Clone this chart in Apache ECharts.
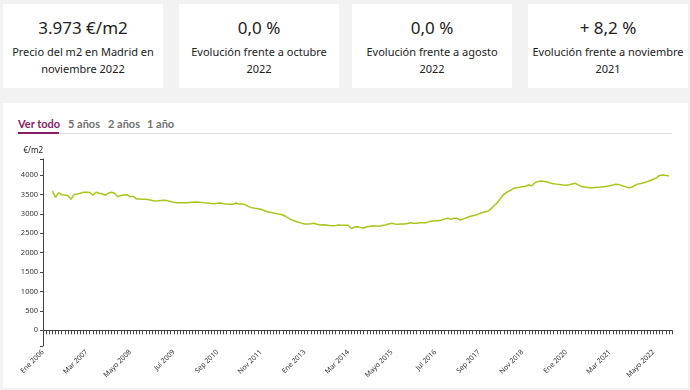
<!DOCTYPE html>
<html>
<head>
<meta charset="utf-8">
<script src="https://cdn.jsdelivr.net/npm/echarts@6/dist/echarts.min.js"></script>
<style>
  html, body { margin:0; padding:0; width:690px; height:390px; background:#f2f2f2; overflow:hidden; font-family:"Noto Sans", sans-serif; }
  .card { position:absolute; top:4px; height:84px; background:#fff; text-align:center; color:#222; }
  .card .v { font-size:17px; margin-top:13px; line-height:22px; }
  .card .l { font-size:11px; line-height:17px; margin-top:4px; color:#222; }
  #panel { position:absolute; left:3px; top:103px; width:685px; height:285px; background:#fff; }
  .tab { position:absolute; top:117px; font-family:"Lato", sans-serif; font-weight:bold; font-size:11px; color:#707070; }
  #tabline { position:absolute; left:18px; top:133px; width:654px; height:1px; background:#e2e2e2; }
  #tabsel { position:absolute; left:18px; top:132px; width:41px; height:2px; background:#8a1c63; }
  #chart { position:absolute; left:0; top:0; width:690px; height:390px; }
</style>
</head>
<body>
<div class="card" style="left:3px;width:160px"><div class="v">3.973 €/m2</div><div class="l">Precio del m2 en Madrid en<br>noviembre 2022</div></div>
<div class="card" style="left:179px;width:160px"><div class="v">0,0 %</div><div class="l">Evolución frente a octubre<br>2022</div></div>
<div class="card" style="left:352px;width:160px"><div class="v">0,0 %</div><div class="l">Evolución frente a agosto<br>2022</div></div>
<div class="card" style="left:528px;width:160px"><div class="v">+ 8,2 %</div><div class="l">Evolución frente a noviembre<br>2021</div></div>
<div id="panel"></div>
<div class="tab" style="left:18px;color:#8a1c63">Ver todo</div>
<div class="tab" style="left:68px">5 años</div>
<div class="tab" style="left:108px">2 años</div>
<div class="tab" style="left:147px">1 año</div>
<div id="tabline"></div>
<div id="tabsel"></div>
<div id="chart"></div>
<script>
// Month names used on the axis (Spanish abbreviations)
const monthNames = ["Ene","Feb","Mar","Abr","Mayo","Jun","Jul","Ago","Sep","Oct","Nov","Dic"];
const startYear = 2006;
const monthCount = 203; // Ene 2006 .. Nov 2022
// Price per m2 (€/m2), monthly; first three months have no data
const leadingGap = [null, null, null];
const prices2006to2011 = [
  3587,3425,3544,3490,3484,3466,3374,3500,3510,3530,3554,3558,3550,3477,3554,3530,3518,3477,3530,3554,3530,
  3441,3470,3484,3492,3441,3451,3381,3380,3378,3374,3360,3345,3330,3335,3342,3348,3335,3315,3300,3286,3288,
  3284,3286,3292,3298,3304,3300,3290,3282,3278,3268,3260,3270,3278,3262,3250,3245,3245,3278,3250,3252,3230
];
const prices2011to2016 = [
  3185,3160,3142,3130,3116,3085,3054,3040,3020,3005,2990,2969,2930,2884,2840,2810,2785,2760,2738,2735,2745,
  2756,2730,2712,2718,2712,2700,2690,2700,2712,2706,2704,2704,2617,2660,2668,2645,2635,2668,2680,2694,2688,
  2678,2700,2712,2740,2756,2740,2730,2735,2738,2750,2771,2760,2756,2771,2768,2771,2800,2815,2820,2823,2841,
  2870,2884,2858,2884,2884,2841
];
const prices2017to2022 = [
  2870,2900,2930,2950,2969,3000,3030,3054,3072,3140,3220,3296,3399,3502,3560,3600,3650,3670,3683,3700,3712,
  3742,3724,3800,3835,3845,3835,3820,3790,3775,3765,3758,3745,3734,3750,3770,3786,3740,3705,3690,3680,3665,
  3675,3683,3690,3700,3708,3725,3742,3760,3752,3724,3700,3672,3683,3730,3765,3780,3800,3830,3860,3890,3925,
  3990,4000,3990,3974
];
const yTickValues = [0,500,1000,1500,2000,2500,3000,3500,4000];
const yMin = -404, yMax = 4412;

const categories = [];
for (let i = 0; i < monthCount; i++) {
  categories.push(monthNames[i % 12] + " " + (startYear + Math.floor(i / 12)));
}
const values = leadingGap.concat(prices2006to2011, prices2011to2016, prices2017to2022);
while (values.length < monthCount) values.push(null);

const chart = echarts.init(document.getElementById('chart'), null, {renderer:'canvas'});
chart.setOption({
  backgroundColor: 'transparent',
  animation: false,
  grid: { left: 43, right: 18, top: 159, bottom: 44, containLabel: false },
  xAxis: {
    type: 'category',
    data: categories,
    boundaryGap: false,
    axisLine: { lineStyle: { color: '#444', width: 1 } },
    axisTick: { show: true, interval: 0, length: 4, lineStyle: { color: '#444' } },
    axisLabel: { interval: 13, rotate: 45, fontSize: 7, color: '#333', margin: 5, fontFamily: 'Noto Sans' },
    splitLine: { show: false }
  },
  yAxis: {
    type: 'value',
    min: yMin, max: yMax,
    name: '€/m2',
    nameLocation: 'end',
    nameGap: 4,
    nameTextStyle: { align: 'right', fontSize: 8, color: '#222', fontFamily: 'Noto Sans' },
    axisLine: { show: true, lineStyle: { color: '#444', width: 1 } },
    axisTick: { show: true, length: 3, lineStyle: { color: '#444' }, customValues: [yMin].concat(yTickValues, [yMax]) },
    axisLabel: { fontSize: 7.5, color: '#333', margin: 5, customValues: yTickValues, fontFamily: 'Noto Sans',
                 formatter: function (v) { return String(v); } },
    splitLine: { show: false }
  },
  series: [{
    type: 'line',
    data: values,
    showSymbol: false,
    connectNulls: false,
    lineStyle: { color: '#a9c61c', width: 1.5 },
    itemStyle: { color: '#a9c61c' }
  }]
});
</script>
</body>
</html>
